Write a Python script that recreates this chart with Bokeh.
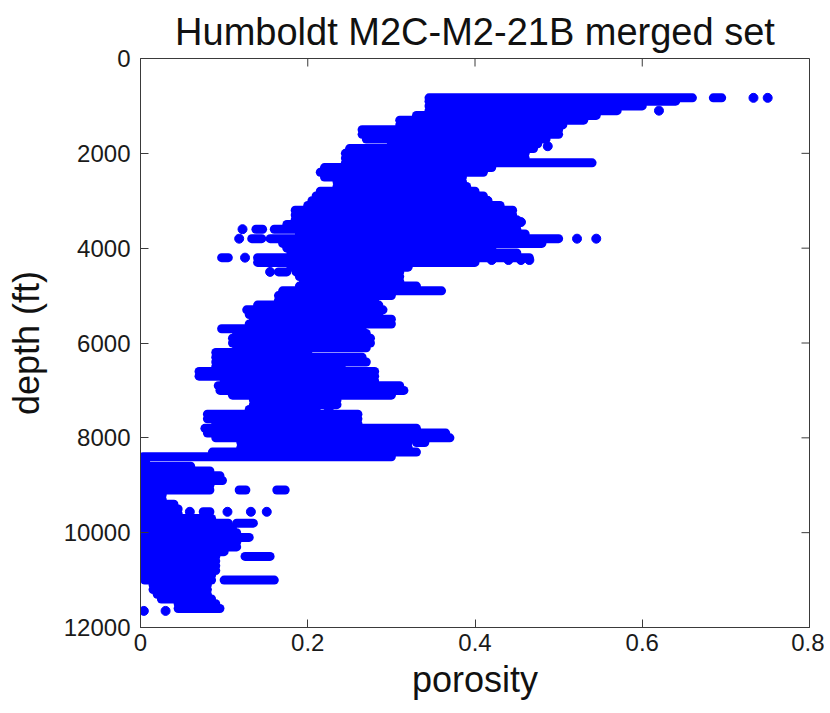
from bokeh.plotting import figure
from bokeh.models import Range1d, FixedTicker, ColumnDataSource
from bokeh.embed import file_html
from bokeh.resources import INLINE

# ---- data (depth in ft, porosity fraction) ----
# main body: one row per depth step, porosity range covered by the samples
body_depth = [830, 900, 1000, 1100, 1200, 1300, 1400, 1500, 1600, 1700,
              1800, 1900, 2000, 2100, 2200, 2300, 2400, 2500, 2600, 2700,
              2800, 2900, 3000, 3100, 3200, 3300, 3400, 3500, 3600, 3700,
              3800, 3900, 4000, 4100, 4200, 4300, 4400, 4500, 4600, 4700,
              4800, 4900, 5000, 5100, 5200, 5300, 5400, 5500, 5600, 5700,
              5800, 5900, 6000, 6100, 6200, 6300, 6400, 6500, 6600, 6700,
              6800, 6900, 7000, 7100, 7200, 7300, 7400, 7500, 7600, 7700,
              7800, 7900, 8000, 8100, 8200, 8300, 8400, 8500, 8600, 8700,
              8800, 8900, 9000, 9100, 9200, 9300, 9400, 9500, 9600, 9700,
              9800, 9900, 10000, 10100, 10200, 10300, 10400, 10500, 10600, 10700,
              10800, 10900, 11000, 11100, 11200, 11300, 11400, 11500, 11600]
body_lo = [0.345, 0.345, 0.345, 0.345, 0.33, 0.31, 0.31, 0.265, 0.265, 0.27,
           0.30, 0.25, 0.245, 0.245, 0.245, 0.22, 0.215, 0.22, 0.235, 0.235,
           0.215, 0.21, 0.205, 0.20, 0.185, 0.185, 0.185, 0.175, 0.16, 0.19,
           0.155, 0.17, 0.175, 0.18, 0.14, 0.14, 0.18, 0.186, 0.19, 0.195,
           0.19, 0.17, 0.165, 0.165, 0.14, 0.127, 0.13, 0.135, 0.13, 0.097,
           0.115, 0.11, 0.11, 0.115, 0.09, 0.09, 0.09, 0.09, 0.07, 0.07,
           0.10, 0.093, 0.095, 0.11, 0.135, 0.135, 0.13, 0.08, 0.08, 0.09,
           0.077, 0.08, 0.09, 0.12, 0.12, 0.086, 0.003, 0.003, 0.003, 0.003,
           0.003, 0.003, 0.003, 0.003, 0.003, 0.003, 0.003, 0.003, 0.003, 0.003,
           0.003, 0.003, 0.003, 0.003, 0.003, 0.003, 0.003, 0.003, 0.003, 0.003,
           0.003, 0.005, 0.005, 0.015, 0.015, 0.02, 0.025, 0.045, 0.045]
body_hi = [0.66, 0.64, 0.60, 0.57, 0.545, 0.53, 0.505, 0.50, 0.50, 0.485,
           0.475, 0.47, 0.46, 0.46, 0.54, 0.42, 0.41, 0.385, 0.385, 0.39,
           0.40, 0.41, 0.415, 0.43, 0.445, 0.445, 0.45, 0.45, 0.45, 0.46,
           0.50, 0.48, 0.42, 0.45, 0.465, 0.40, 0.32, 0.31, 0.31, 0.31,
           0.33, 0.36, 0.30, 0.28, 0.285, 0.29, 0.285, 0.30, 0.30, 0.265,
           0.27, 0.275, 0.275, 0.27, 0.20, 0.265, 0.27, 0.24, 0.28, 0.28,
           0.28, 0.31, 0.315, 0.30, 0.235, 0.235, 0.21, 0.26, 0.26, 0.26,
           0.33, 0.365, 0.37, 0.32, 0.32, 0.33, 0.30, 0.006, 0.06, 0.083,
           0.095, 0.098, 0.083, 0.083, 0.026, 0.026, 0.04, 0.045, 0.045, 0.085,
           0.105, 0.11, 0.115, 0.13, 0.115, 0.115, 0.10, 0.09, 0.09, 0.09,
           0.09, 0.085, 0.085, 0.08, 0.08, 0.08, 0.085, 0.09, 0.095]

# detached short streaks of samples
streak_depth = [830, 3600, 3800, 4200, 4500, 8100, 9100, 9100, 9560, 9800, 10500, 11000]
streak_lo = [0.685, 0.138, 0.133, 0.097, 0.165, 0.33, 0.118, 0.163, 0.075, 0.115, 0.125, 0.10]
streak_hi = [0.695, 0.146, 0.145, 0.105, 0.175, 0.34, 0.126, 0.173, 0.083, 0.135, 0.155, 0.16]

# isolated samples
pt_depth = [830, 830, 1100, 1850, 3000, 3000, 3450, 3600, 3800, 3800, 3800,
            4200, 4250, 4250, 4250, 4250, 4500, 7420, 9560, 9560, 9560, 9560,
            11650, 11650]
pt_por = [0.733, 0.750, 0.62, 0.487, 0.39, 0.415, 0.455, 0.122, 0.118, 0.522, 0.545,
          0.125, 0.42, 0.44, 0.455, 0.465, 0.155, 0.225, 0.059, 0.104, 0.132, 0.151,
          0.004, 0.03]

x_ticks = [0, 0.2, 0.4, 0.6, 0.8]
x_tick_labels = ["0", "0.2", "0.4", "0.6", "0.8"]
y_ticks = [0, 2000, 4000, 6000, 8000, 10000, 12000]

X_MIN, X_MAX = 0, 0.8
Y_MIN, Y_MAX = 0, 12000

BLUE = "#0000ff"
AX = "#3a3a3a"
FONT = "Liberation Sans"
W, H = 824, 713
BL, BR, BT, BB = 140, 15, 58, 86
TICK_PX = 8

p = figure(width=W, height=H, output_backend="svg", toolbar_location=None,
           x_range=Range1d(X_MIN, X_MAX), y_range=Range1d(Y_MAX, Y_MIN),
           min_border_left=BL, min_border_right=BR, min_border_top=BT,
           min_border_bottom=BB, background_fill_color="white",
           border_fill_color="white")

p.title.text = "Humboldt M2C-M2-21B merged set"
p.title.align = "center"
p.title.text_font = FONT
p.title.text_font_size = "38px"
p.title.text_font_style = "normal"
p.title.text_color = "#111111"
p.title.standoff = 12

body = ColumnDataSource(dict(d=body_depth, lo=body_lo, hi=body_hi))
streak = ColumnDataSource(dict(d=streak_depth, lo=streak_lo, hi=streak_hi))
pts = ColumnDataSource(dict(d=pt_depth, por=pt_por))

p.segment(x0="lo", y0="d", x1="hi", y1="d", source=body, line_color=BLUE,
          line_width=9, line_cap="round")
p.segment(x0="lo", y0="d", x1="hi", y1="d", source=streak, line_color=BLUE,
          line_width=9, line_cap="round")
p.scatter(x="por", y="d", source=pts, size=9, marker="circle",
          fill_color=BLUE, line_color=BLUE)

# mirrored inward ticks on top and right edges (box axes)
frame_w = W - BL - BR
frame_h = H - BT - BB
tick_dy = TICK_PX * (Y_MAX - Y_MIN) / frame_h
tick_dx = TICK_PX * (X_MAX - X_MIN) / frame_w
p.segment(x0=x_ticks, y0=[Y_MIN] * len(x_ticks), x1=x_ticks,
          y1=[Y_MIN + tick_dy] * len(x_ticks), line_color=AX, line_width=1)
p.segment(x0=[X_MAX] * len(y_ticks), y0=y_ticks,
          x1=[X_MAX - tick_dx] * len(y_ticks), y1=y_ticks,
          line_color=AX, line_width=1)

p.grid.visible = False
p.outline_line_color = AX
p.outline_line_width = 1

xa = p.xaxis[0]
ya = p.yaxis[0]
xa.ticker = FixedTicker(ticks=x_ticks)
xa.major_label_overrides = {t: s for t, s in zip(x_ticks, x_tick_labels)}
ya.ticker = FixedTicker(ticks=y_ticks)

for ax in [xa, ya]:
    ax.axis_line_color = AX
    ax.major_tick_line_color = AX
    ax.major_tick_in = TICK_PX
    ax.major_tick_out = 0
    ax.minor_tick_in = 0
    ax.minor_tick_out = 0
    ax.major_label_text_font = FONT
    ax.major_label_text_font_size = "24px"
    ax.major_label_text_color = "#1a1a1a"
    ax.axis_label_text_font = FONT
    ax.axis_label_text_font_size = "36px"
    ax.axis_label_text_font_style = "normal"
    ax.axis_label_text_color = "#111111"

xa.major_label_standoff = 6
xa.axis_label_standoff = 5
ya.major_label_standoff = 10
ya.axis_label_standoff = 14

xa.axis_label = "porosity"
ya.axis_label = "depth (ft)"

open("out.html", "w").write(file_html(p, INLINE))
